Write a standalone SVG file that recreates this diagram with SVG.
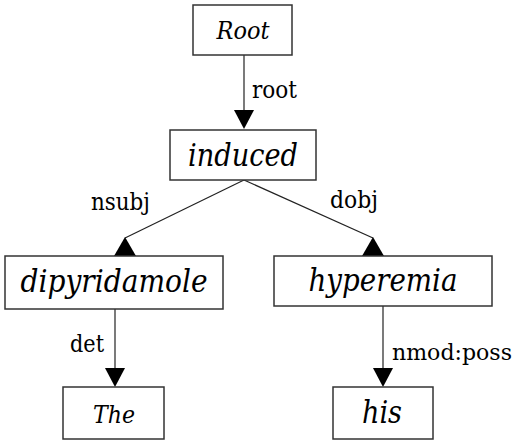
<svg xmlns="http://www.w3.org/2000/svg" width="520" height="445" viewBox="0 0 520 445">
<style>
.box{fill:#fff;stroke:#333;stroke-width:1.5}
.edge{stroke:#222;stroke-width:1.2;fill:none}
.head{fill:#000}
text{font-family:"DejaVu Serif","Liberation Serif",serif;fill:#000}
.w{font-style:italic;text-anchor:middle}
.lbl{font-size:24px}
</style>
<rect width="520" height="445" fill="#fff"/>
<g id="connectors">
<line class="edge" x1="244" y1="55" x2="244" y2="112"/>
<polygon class="head" points="234,110 254,110 244,129"/>
<text class="lbl" x="252" y="98" textLength="45" lengthAdjust="spacingAndGlyphs">root</text>
<line class="edge" x1="244" y1="180" x2="125" y2="238"/>
<polygon class="head" points="125,237 114,256 136,256"/>
<text class="lbl" x="91" y="210" textLength="59" lengthAdjust="spacingAndGlyphs">nsubj</text>
<line class="edge" x1="244" y1="180" x2="373" y2="238"/>
<polygon class="head" points="373,237 362,256 384,256"/>
<text class="lbl" x="330" y="208" textLength="48" lengthAdjust="spacingAndGlyphs">dobj</text>
<line class="edge" x1="115" y1="309" x2="115" y2="370"/>
<polygon class="head" points="105,368 125,368 115,387"/>
<text class="lbl" x="70" y="352" textLength="34" lengthAdjust="spacingAndGlyphs">det</text>
<line class="edge" x1="383" y1="306" x2="383" y2="370"/>
<polygon class="head" points="373,368 393,368 383,387"/>
<text class="lbl" x="392" y="360" font-size="22" style="font-size:22px" textLength="120" lengthAdjust="spacingAndGlyphs">nmod:poss</text>
</g>
<g id="node-root">
<rect class="box" x="193" y="5" width="99" height="50"/>
<text class="w" x="243" y="39" font-size="25" textLength="53" lengthAdjust="spacingAndGlyphs">Root</text>
</g>
<g id="node-induced">
<rect class="box" x="170" y="130" width="146" height="50"/>
<text class="w" x="243" y="166" font-size="32" textLength="110" lengthAdjust="spacingAndGlyphs">induced</text>
</g>
<g id="node-dipyridamole">
<rect class="box" x="5" y="256" width="218" height="53"/>
<text class="w" x="114" y="292" font-size="32" textLength="187" lengthAdjust="spacingAndGlyphs">dipyridamole</text>
</g>
<g id="node-hyperemia">
<rect class="box" x="274" y="256" width="218" height="50"/>
<text class="w" x="383" y="291" font-size="32" textLength="149" lengthAdjust="spacingAndGlyphs">hyperemia</text>
</g>
<g id="node-the">
<rect class="box" x="63" y="387" width="101" height="52"/>
<text class="w" x="114" y="423" font-size="25" textLength="42" lengthAdjust="spacingAndGlyphs">The</text>
</g>
<g id="node-his">
<rect class="box" x="333" y="387" width="100" height="52"/>
<text class="w" x="382" y="423" font-size="32" textLength="40" lengthAdjust="spacingAndGlyphs">his</text>
</g>
</svg>
